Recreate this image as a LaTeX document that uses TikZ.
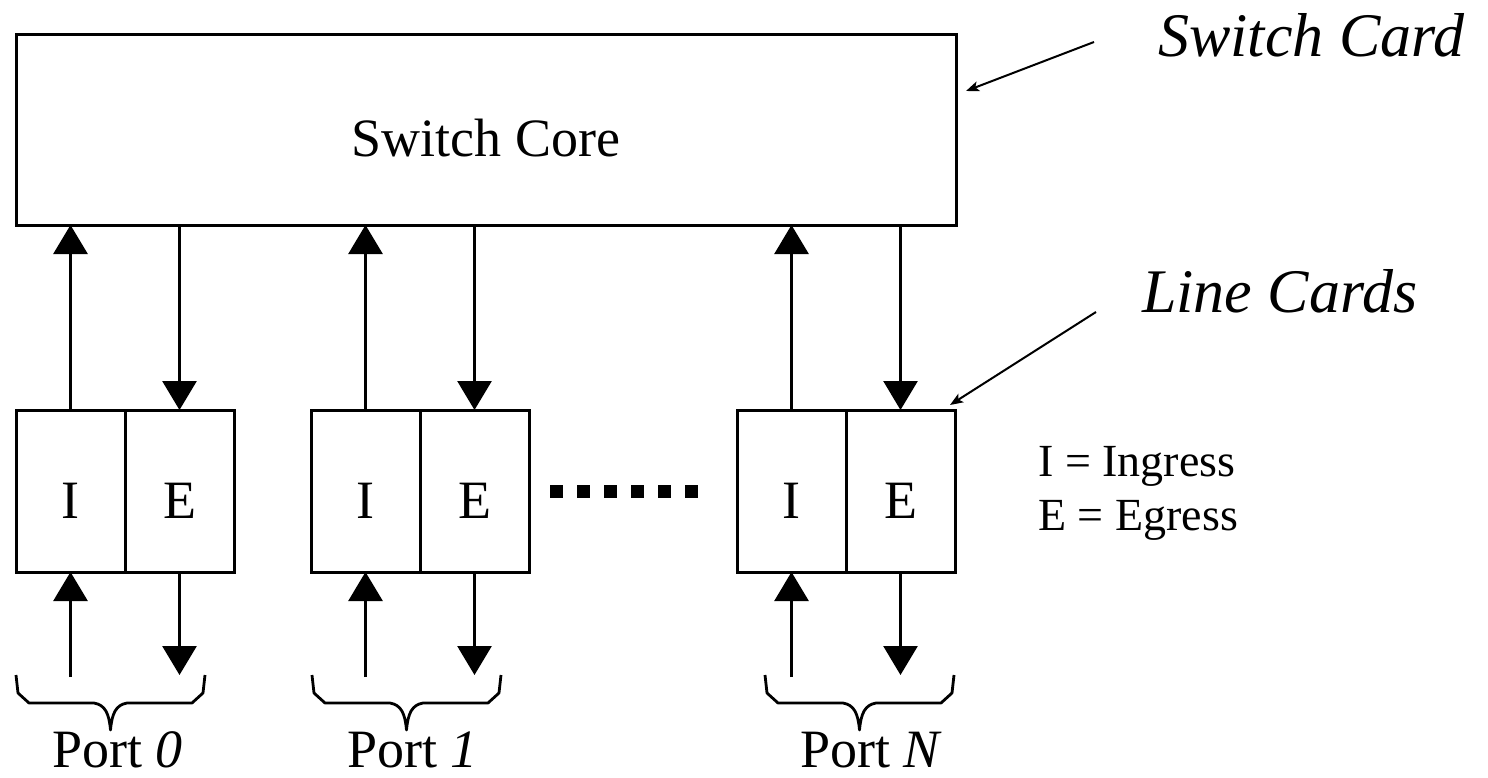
\documentclass[tikz,border=0pt]{standalone}
\usepackage{fontspec}
\setmainfont{Liberation Serif}
\usetikzlibrary{positioning, arrows.meta, calc}

\begin{document}
\begin{tikzpicture}[
    x=1pt, y=-1pt,
    corebox/.style={
        draw,
        line width=3pt,
        minimum width=940pt,
        minimum height=190pt,
        inner sep=0pt,
        outer sep=0pt,
        text height=54pt,
        text depth=0pt,
        font=\fontsize{54}{60}\selectfont
    },
    cardbox/.style={
        draw,
        line width=3pt,
        minimum width=109pt,
        minimum height=162pt,
        inner sep=0pt,
        outer sep=0pt,
        text height=54pt,
        text depth=0pt,
        font=\fontsize{54}{60}\selectfont
    },
    bigptr/.style={
        -{Triangle[length=29pt,width=34pt]},
        line width=2.8pt
    },
    tagptr/.style={
        -{Stealth[length=13pt,width=10pt,inset=3pt]},
        line width=2pt
    },
    tagtext/.style={
        inner sep=0pt,
        anchor=base west,
        font=\fontsize{62}{70}\selectfont\itshape
    },
    porttext/.style={
        inner sep=0pt,
        anchor=base west,
        font=\fontsize{54}{60}\selectfont
    },
    keytext/.style={
        inner sep=0pt,
        anchor=base west,
        font=\fontsize{46}{52}\selectfont
    },
    portbrace/.pic={
        \draw[line width=2.8pt, line join=round]
            (0,0) -- (2,18) -- (13,28) -- (78,28)
            .. controls (89,30) and (93,38) .. (94.5,55)
            .. controls (96,38) and (100,30) .. (111,28)
            -- (176,28) -- (187,18) -- (189,0);
    }
]

    \useasboundingbox (0,0) rectangle (1488,778);

    % Nodes
    \node[corebox] (core) at (486,130) {Switch Core};

    \node[cardbox] (i0) at (70.5,491) {I};
    \node[cardbox, right=0pt of i0] (e0) {E};
    \node[cardbox] (i1) at (365.5,491) {I};
    \node[cardbox, right=0pt of i1] (e1) {E};
    \node[cardbox] (iN) at (791.5,491) {I};
    \node[cardbox, right=0pt of iN] (eN) {E};

    % Dots between the line cards
    \coordinate (gap) at (550,485);
    \foreach \k in {0,...,5}
        \fill ([xshift=\k*27pt]gap) rectangle ++(13,13);

    % Ingress / Egress pointers
    \foreach \g in {0,1,N} {
        \draw[bigptr] (i\g.north) -- (i\g.north |- core.south);
        \draw[bigptr] (e\g.north |- core.south) -- (e\g.north);
        \coordinate (in\g) at ([yshift=-105pt]i\g.south);
        \coordinate (out\g) at ([yshift=-103pt]e\g.south);
        \draw[bigptr] (in\g) -- (i\g.south);
        \draw[bigptr] (e\g.south) -- (out\g);
    }

    % Port braces and labels
    \coordinate (b0) at (16,675);
    \coordinate (b1) at (312,675);
    \coordinate (bN) at (765,675);
    \pic at (b0) {portbrace};
    \pic at (b1) {portbrace};
    \pic at (bN) {portbrace};
    \node[porttext] (port0) at ([xshift=36pt,yshift=-92pt]b0) {Port \textit{0}};
    \node[porttext] (port1) at ([xshift=35pt,yshift=-92pt]b1) {Port \textit{1}};
    \node[porttext] (portN) at ([xshift=35pt,yshift=-92pt]bN) {Port \textit{N}};

    % Card tags
    \node[tagtext] (cardtag) at (1158,57) {Switch Card};
    \node[tagtext] (linetag) at (1142,312) {Line Cards};
    \coordinate (cardfrom) at ([xshift=-64pt,yshift=15pt]cardtag.base west);
    \coordinate (cardto) at ([xshift=10pt,yshift=39pt]core.east);
    \draw[tagptr] (cardfrom) -- (cardto);
    \coordinate (linefrom) at ([xshift=-46pt]linetag.base west);
    \coordinate (lineto) at ([xshift=-5pt,yshift=5pt]eN.north east);
    \draw[tagptr] (linefrom) -- (lineto);

    % Key
    \node[keytext] (keyI) at (1038,476) {I = Ingress};
    \node[keytext] (keyE) at (1038,530) {E = Egress};

\end{tikzpicture}
\end{document}
